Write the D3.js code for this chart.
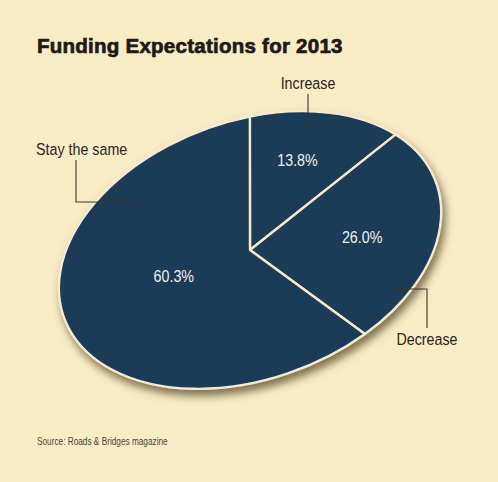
<!DOCTYPE html>
<html>
<head>
<meta charset="utf-8">
<script src="https://cdn.jsdelivr.net/npm/d3@7"></script>
<style>
  html, body { margin: 0; padding: 0; background: #f8ecc7; }
  svg { display: block; }
</style>
</head>
<body>
<svg id="chart" width="498" height="482"></svg>
<script>
// ---- data ----
const categories = ["Increase", "Decrease", "Stay the same"];
const values = [13.8, 26.0, 60.3];
const valueLabels = ["13.8%", "26.0%", "60.3%"];
const title = "Funding Expectations for 2013";
const source = "Source: Roads & Bridges magazine";

// ---- layout / style ----
const W = 498, H = 482;
const cx = 250, cy = 250;
const rx = 198, ry = 129, tilt = -20;      // ellipse made by tilting a circle
const startDeg = 13.3;
const labelR = [0.63, 0.59, 0.42];
const labelNudge = [[-3, -4], [0, 0], [0, -7]];
const navy = "#1f3a56", cream = "#f3ecd2", bg = "#f8ecc7", ink = "#2b2620";
const font = "'Liberation Sans',Arial,sans-serif";
const narrow = 0.84;   // horizontal squeeze to imitate a condensed face

const svg = d3.select("#chart");
svg.append("rect").attr("width", W).attr("height", H).attr("fill", bg);

const defs = svg.append("defs");
const f = defs.append("filter").attr("id", "shadow")
  .attr("x", "-20%").attr("y", "-20%").attr("width", "140%").attr("height", "150%");
f.append("feDropShadow").attr("dx", 3).attr("dy", 6).attr("stdDeviation", 4)
  .attr("flood-color", "#6b5c38").attr("flood-opacity", 0.85);

// title
svg.append("text").attr("x", 37).attr("y", 53)
  .attr("font-family", font)
  .attr("font-weight", "bold").attr("font-size", 20.5).attr("fill", "#1e1a15")
  .attr("stroke", "#1e1a15").attr("stroke-width", 0.7).attr("letter-spacing", 0.25)
  .text(title);

// pie
const pie = d3.pie().sort(null)
  .startAngle(startDeg * Math.PI / 180)
  .endAngle((startDeg + 360) * Math.PI / 180);
const arcs = pie(values);
const arc = d3.arc().innerRadius(0).outerRadius(1);

const outer = svg.append("g").attr("filter", "url(#shadow)");
const g = outer.append("g")
  .attr("transform", `translate(${cx},${cy}) rotate(${tilt}) scale(${rx},${ry})`);
g.selectAll("path").data(arcs).join("path")
  .attr("d", arc)
  .attr("fill", navy)
  .attr("stroke", cream)
  .attr("stroke-width", 2.4)
  .attr("stroke-linejoin", "round")
  .attr("vector-effect", "non-scaling-stroke");

// map a unit-circle point to the page
const t = tilt * Math.PI / 180;
function toPage(p) {
  const x = p[0] * rx, y = p[1] * ry;
  return [cx + x * Math.cos(t) - y * Math.sin(t), cy + x * Math.sin(t) + y * Math.cos(t)];
}

// value labels
svg.selectAll("text.val").data(arcs).join("text")
  .attr("class", "val")
  .attr("transform", (d, i) => {
    const c = d3.arc().innerRadius(0).outerRadius(2 * labelR[i]).centroid(d);
    const p = toPage(c);
    return `translate(${p[0] + labelNudge[i][0]},${p[1] + labelNudge[i][1]}) scale(${narrow},1)`;
  })
  .attr("text-anchor", "middle").attr("dy", "0.36em")
  .attr("font-family", font).attr("font-size", 17)
  .attr("fill", "#eef0f0")
  .text((d, i) => valueLabels[i]);

// category labels + leader lines
function label(x, y, txt, anchor) {
  svg.append("text")
    .attr("transform", `translate(${x},${y}) scale(${narrow},1)`)
    .attr("text-anchor", anchor)
    .attr("font-family", font).attr("font-size", 17).attr("fill", ink)
    .text(txt);
}
const lead = svg.append("g").attr("fill", "none").attr("stroke", "#3a332a").attr("stroke-width", 1.1);

label(308, 89, categories[0], "middle");
lead.append("path").attr("d", "M308,94V132");

label(427, 345, categories[1], "middle");
lead.append("path").attr("d", "M395,289H427V328");

label(36, 155, categories[2], "start");
lead.append("path").attr("d", "M76,160V202H132");

// source
svg.append("text")
  .attr("transform", `translate(37,445) scale(0.75,1)`)
  .attr("font-family", font).attr("font-size", 11).attr("fill", "#4a4336")
  .text(source);
</script>
</body>
</html>
